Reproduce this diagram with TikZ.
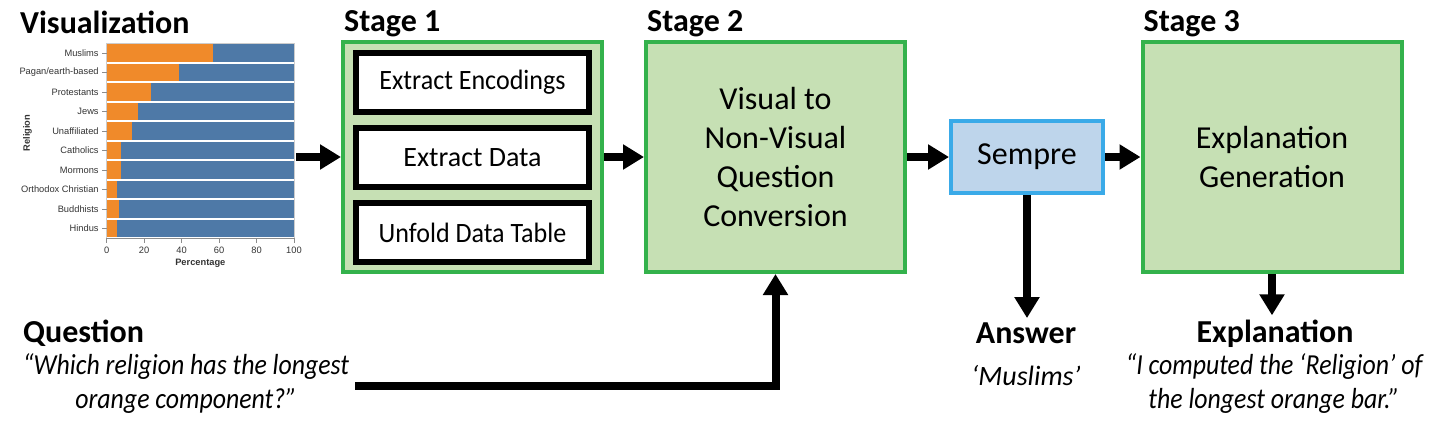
\documentclass[tikz,border=0pt]{standalone}
\usepackage{fontspec}
\setmainfont{Carlito}
\newfontfamily\chartfont{Liberation Sans}
\newfontfamily\quotefont[FakeStretch=0.89]{Carlito}
\newfontfamily\condfont[FakeStretch=0.93]{Carlito}
\usetikzlibrary{positioning,arrows.meta}

\definecolor{stagegreen}{RGB}{52,178,76}
\definecolor{stagefill}{RGB}{198,224,180}
\definecolor{sempreblue}{RGB}{58,170,232}
\definecolor{semprefill}{RGB}{190,213,235}
\definecolor{barorange}{RGB}{240,138,42}
\definecolor{barblue}{RGB}{78,121,167}

\begin{document}
\begin{tikzpicture}[x=1pt, y=-1pt,
  stage/.style={draw=stagegreen, fill=stagefill, line width=4pt,
    minimum width=259pt, minimum height=230pt, align=center,
    font=\fontsize{32}{39}\selectfont},
  substep/.style={draw=black, fill=white, line width=6pt,
    minimum width=233pt, minimum height=59pt,
    font=\fontsize{28}{32}\selectfont},
  title/.style={font=\bfseries\fontsize{32}{38}\selectfont, inner sep=0pt},
  quote/.style={font=\quotefont\itshape\fontsize{29}{34}\selectfont,
    align=center, inner sep=0pt},
  flow/.style={line width=8pt, -{Triangle[length=21pt, width=24pt]}},
  ylab/.style={anchor=east, font=\chartfont\fontsize{9.3}{10}\selectfont,
    text=black!80, inner sep=0pt},
  xlab/.style={font=\chartfont\fontsize{9.3}{10}\selectfont,
    text=black!80, inner sep=0pt},
  axis/.style={draw=black!45, line width=0.6pt}]
  \useasboundingbox (0,0) rectangle (1436,421);

  % Visualization: stacked bar chart
  \node[title, anchor=base west] (tviz) at (20,33) {Visualization};
  \begin{scope}[shift={(106.7,43.3)}, x=1.873pt, y=-19.5pt]
    \fill[barorange] (0,0.05) rectangle (56.6,0.95); \fill[barblue] (56.6,0.05) rectangle (100,0.95);
    \fill[barorange] (0,1.05) rectangle (38.8,1.95); \fill[barblue] (38.8,1.05) rectangle (100,1.95);
    \fill[barorange] (0,2.05) rectangle (23.6,2.95); \fill[barblue] (23.6,2.05) rectangle (100,2.95);
    \fill[barorange] (0,3.05) rectangle (16.5,3.95); \fill[barblue] (16.5,3.05) rectangle (100,3.95);
    \fill[barorange] (0,4.05) rectangle (13.7,4.95); \fill[barblue] (13.7,4.05) rectangle (100,4.95);
    \fill[barorange] (0,5.05) rectangle (7.5,5.95);  \fill[barblue] (7.5,5.05) rectangle (100,5.95);
    \fill[barorange] (0,6.05) rectangle (7.5,6.95);  \fill[barblue] (7.5,6.05) rectangle (100,6.95);
    \fill[barorange] (0,7.05) rectangle (5.7,7.95);  \fill[barblue] (5.7,7.05) rectangle (100,7.95);
    \fill[barorange] (0,8.05) rectangle (6.6,8.95);  \fill[barblue] (6.6,8.05) rectangle (100,8.95);
    \fill[barorange] (0,9.05) rectangle (5.7,9.95);  \fill[barblue] (5.7,9.05) rectangle (100,9.95);
    \draw[axis, draw=black!20] (0,0) rectangle (100,10);

    % category labels
    \node[ylab] (c1) at (-4.2,0.5) {Muslims};
    \node[ylab] (c2) at (-4.2,1.5) {Pagan/earth-based};
    \node[ylab] (c3) at (-4.2,2.5) {Protestants};
    \node[ylab] (c4) at (-4.2,3.5) {Jews};
    \node[ylab] (c5) at (-4.2,4.5) {Unaffiliated};
    \node[ylab] (c6) at (-4.2,5.5) {Catholics};
    \node[ylab] (c7) at (-4.2,6.5) {Mormons};
    \node[ylab] (c8) at (-4.2,7.5) {Orthodox Christian};
    \node[ylab] (c9) at (-4.2,8.5) {Buddhists};
    \node[ylab] (c10) at (-4.2,9.5) {Hindus};
    \draw[axis] (-2.4,0.5) -- (0,0.5) (-2.4,1.5) -- (0,1.5) (-2.4,2.5) -- (0,2.5)
      (-2.4,3.5) -- (0,3.5) (-2.4,4.5) -- (0,4.5) (-2.4,5.5) -- (0,5.5)
      (-2.4,6.5) -- (0,6.5) (-2.4,7.5) -- (0,7.5) (-2.4,8.5) -- (0,8.5) (-2.4,9.5) -- (0,9.5);
    \node[xlab, rotate=90, font=\chartfont\bfseries\fontsize{9.3}{10}\selectfont] (yname) at (-42.3,4.6) {Religion};

    % percentage axis
    \draw[axis] (0,10) -- (100,10);
    \draw[axis] (0,10) -- (0,10.25) (20,10) -- (20,10.25) (40,10) -- (40,10.25)
      (60,10) -- (60,10.25) (80,10) -- (80,10.25) (100,10) -- (100,10.25);
    \node[xlab] (p0) at (0,10.6) {0};
    \node[xlab] (p20) at (20,10.6) {20};
    \node[xlab] (p40) at (40,10.6) {40};
    \node[xlab] (p60) at (60,10.6) {60};
    \node[xlab] (p80) at (80,10.6) {80};
    \node[xlab] (p100) at (100,10.6) {100};
    \node[xlab, font=\chartfont\bfseries\fontsize{9.3}{10}\selectfont] (xname) at (50,11.3) {Percentage};
  \end{scope}
  \coordinate (chartout) at (296,157);

  % Stage 1
  \node[stage] (s1) at (472.5,157) {};
  \node[title, anchor=base west] (ts1) at ([xshift=3pt, yshift=9pt]s1.north west) {Stage 1};
  \node[substep, font=\condfont\fontsize{28}{32}\selectfont] (enc) at (472.5,82.5) {Extract Encodings};
  \node[substep] (dat) at (472.5,157.5) {Extract Data};
  \node[substep, font=\condfont\fontsize{28}{32}\selectfont] (tab) at (472.5,232.5) {Unfold Data Table};

  % Stage 2
  \node[stage] (s2) at (775.5,157) {Visual to\\Non-Visual\\Question\\Conversion};
  \node[title, anchor=base west] (ts2) at ([xshift=3pt, yshift=9pt]s2.north west) {Stage 2};

  % Sempre
  \node[stage, draw=sempreblue, fill=semprefill, minimum width=152pt, minimum height=72pt] (sem) at (1027,157) {Sempre};

  % Stage 3
  \node[stage] (s3) at (1272,157) {Explanation\\Generation};
  \node[title, anchor=base west] (ts3) at ([xshift=3pt, yshift=9pt]s3.north west) {Stage 3};

  % Question, answer, explanation
  \node[title, anchor=base west] (tq) at (23,342) {Question};
  \node[quote, anchor=base] (q) at (186,408) {“Which religion has the longest\\orange component?”};
  \node[title, anchor=base] (tans) at (1026,343) {Answer};
  \node[quote, anchor=base, font=\itshape\fontsize{28}{34}\selectfont] (ans) at (1026,385) {‘Muslims’};
  \node[title, anchor=base] (texp) at (1275,342) {Explanation};
  \node[quote, anchor=base] (exp) at (1274,408) {“I computed the ‘Religion’ of\\the longest orange bar.”};
  \coordinate (qstart) at (355,386);

  % flow arrows
  \draw[flow] (chartout) -- (s1.west);
  \draw[flow] (s1.east) -- (s2.west);
  \draw[flow] (s2.east) -- (sem.west);
  \draw[flow] (sem.east) -- (s3.west);
  \draw[flow] (qstart) -| (s2.south);
  \draw[flow] (sem.south) -- ([yshift=4pt]sem.south |- tans.north);
  \draw[flow] (s3.south) -- ([yshift=4pt]s3.south |- texp.north);
\end{tikzpicture}
\end{document}
